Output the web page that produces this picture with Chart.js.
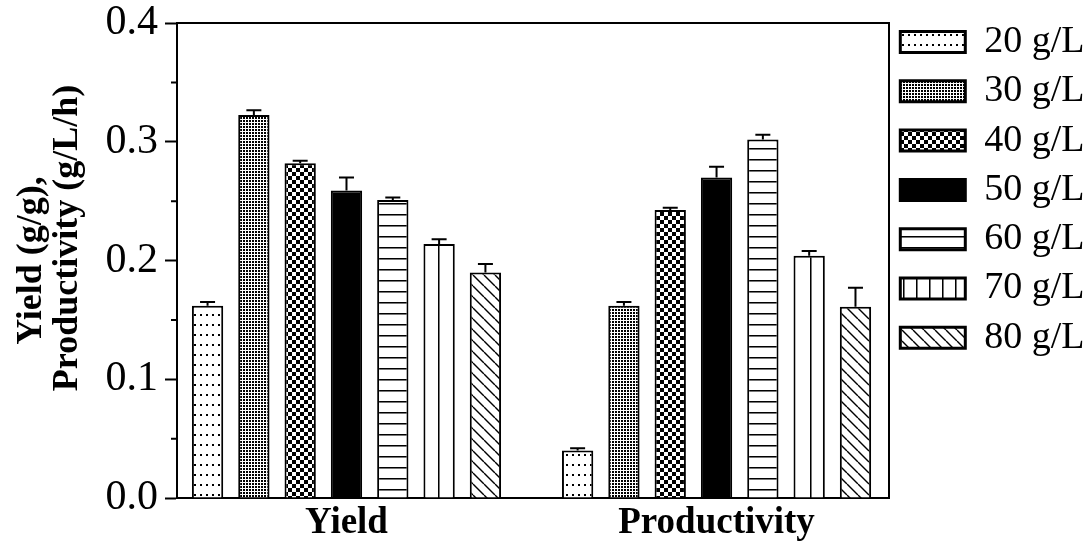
<!doctype html>
<html lang="en">
<head>
<meta charset="utf-8">
<title>Yield and Productivity</title>
<style>
  html, body { margin: 0; padding: 0; background: #fff; }
</style>
</head>
<body>
<canvas id="myChart" width="1090" height="543"></canvas>

<script src="https://cdn.jsdelivr.net/npm/chart.js"></script>
<script>
// data
const groups = ['Yield', 'Productivity'];
const concentrations = ['20 g/L', '30 g/L', '40 g/L', '50 g/L', '60 g/L', '70 g/L', '80 g/L'];
const yieldValues = [0.162, 0.3225, 0.282, 0.259, 0.251, 0.214, 0.190];
const yieldErrors = [0.003, 0.004, 0.002, 0.011, 0.002, 0.004, 0.007];
const productivityValues = [0.040, 0.162, 0.2425, 0.270, 0.302, 0.204, 0.161];
const productivityErrors = [0.002, 0.003, 0.002, 0.009, 0.004, 0.004, 0.016];
const yTicks = [0.0, 0.1, 0.2, 0.3, 0.4];
const yMinorTicks = [0.05, 0.15, 0.25, 0.35];

const serif = "'Liberation Serif', 'Times New Roman', serif";
const ctx = document.getElementById('myChart').getContext('2d');

// fill patterns like the original hatching
function makePattern(w, h, draw) {
  const c = document.createElement('canvas');
  c.width = w; c.height = h;
  const g = c.getContext('2d');
  g.fillStyle = '#fff';
  g.fillRect(0, 0, w, h);
  g.fillStyle = '#000';
  g.strokeStyle = '#000';
  draw(g, w, h);
  return ctx.createPattern(c, 'repeat');
}

const dots = makePattern(6, 10, g => g.fillRect(2, 4, 2, 2));
const dense = makePattern(3, 3, g => g.fillRect(0, 0, 2, 2));
const checker = makePattern(8, 8, g => { g.fillRect(0, 0, 4, 4); g.fillRect(4, 4, 4, 4); });
const hlines = makePattern(4, 11, g => {
  g.fillRect(0, 5, 4, 1);
  g.fillStyle = '#777';
  g.fillRect(0, 6, 4, 1);
});
const vlinesBar = makePattern(31, 4, g => {
  g.fillRect(4, 0, 1, 4);
  g.fillStyle = '#777';
  g.fillRect(5, 0, 1, 4);
});
const vlinesLegend = makePattern(13, 4, g => {
  g.fillRect(6, 0, 1, 4);
  g.fillStyle = '#777';
  g.fillRect(7, 0, 1, 4);
});
const diag = makePattern(11, 11, (g, w, h) => {
  g.lineWidth = 1.4;
  g.beginPath();
  [-w, 0, w].forEach(k => { g.moveTo(k, 0); g.lineTo(k + w, h); });
  g.stroke();
});

const barFills = [dots, dense, checker, '#000', hlines, vlinesBar, diag];
const legendFills = [dots, dense, checker, '#000', hlines, vlinesLegend, diag];

const datasets = concentrations.map((label, i) => ({
  label: label,
  data: [{x: 0, y: yieldValues[i]}, {x: 1, y: productivityValues[i]}],
  errors: [yieldErrors[i], productivityErrors[i]],
  backgroundColor: barFills[i],
  borderColor: '#000',
  borderWidth: 2,
  categoryPercentage: 0.876,
  barPercentage: 0.676
}));

// upward error bars with caps
const errorBars = {
  id: 'errorBars',
  afterDatasetsDraw(chart) {
    const c = chart.ctx;
    const y = chart.scales.y;
    c.save();
    c.strokeStyle = '#000';
    c.lineWidth = 2;
    chart.data.datasets.forEach((ds, i) => {
      chart.getDatasetMeta(i).data.forEach((bar, j) => {
        const top = y.getPixelForValue(ds.data[j].y + ds.errors[j]);
        c.beginPath();
        c.moveTo(bar.x, bar.y);
        c.lineTo(bar.x, top);
        c.moveTo(bar.x - 7.5, top);
        c.lineTo(bar.x + 7.5, top);
        c.stroke();
      });
    });
    c.restore();
  }
};

// top/right frame and the short minor ticks
const frame = {
  id: 'frame',
  afterDraw(chart) {
    const c = chart.ctx;
    const a = chart.chartArea;
    const y = chart.scales.y;
    c.save();
    c.strokeStyle = '#000';
    c.lineWidth = 2;
    c.beginPath();
    c.moveTo(a.left, a.top);
    c.lineTo(a.right, a.top);
    c.lineTo(a.right, a.bottom);
    yMinorTicks.forEach(v => {
      const p = y.getPixelForValue(v);
      c.moveTo(a.left - 6, p);
      c.lineTo(a.left, p);
    });
    c.stroke();
    c.restore();
  }
};

new Chart(ctx, {
  type: 'bar',
  data: { datasets: datasets },
  plugins: [errorBars, frame],
  options: {
    responsive: false,
    animation: false,
    devicePixelRatio: 1,
    layout: { padding: 0 },
    scales: {
      x: {
        type: 'linear',
        min: -0.458,
        max: 1.466,
        offset: false,
        afterBuildTicks: s => { s.ticks = groups.map((g, i) => ({value: i})); },
        afterFit: s => { s.height = 45; },
        grid: { display: false, drawTicks: false },
        border: { display: true, color: '#000', width: 2 },
        ticks: {
          autoSkip: false,
          maxRotation: 0,
          padding: 3,
          color: '#000',
          font: { family: serif, size: 37, weight: 'bold' },
          callback: v => groups[v]
        }
      },
      y: {
        min: 0,
        max: 0.4,
        afterBuildTicks: s => { s.ticks = yTicks.map(v => ({value: v})); },
        afterFit: s => { s.width = 177; },
        grid: {
          drawOnChartArea: false,
          drawTicks: true,
          tickLength: 12,
          tickWidth: 2,
          tickColor: '#000'
        },
        border: { display: true, color: '#000', width: 2 },
        ticks: {
          padding: 7,
          color: '#000',
          font: { family: serif, size: 42, lineHeight: 0.762 },
          callback: v => Number(v).toFixed(1)
        },
        title: {
          display: true,
          // leading spaces push the second line up, as in the original
          text: ['Yield (g/g),', '     Productivity (g/L/h)'],
          color: '#000',
          padding: { top: 14, bottom: 0 },
          font: { family: serif, size: 36, weight: 'bold', lineHeight: 1.0 }
        }
      }
    },
    plugins: {
      tooltip: { enabled: false },
      legend: {
        position: 'right',
        align: 'start',
        maxWidth: 201,
        title: { display: true, text: '', padding: 5.35, font: { size: 1, lineHeight: 1 } },
        labels: {
          boxWidth: 65,
          boxHeight: 21,
          padding: 11.3,
          color: '#000',
          font: { family: serif, size: 38 },
          generateLabels: chart => {
            const items = Chart.defaults.plugins.legend.labels.generateLabels(chart);
            items.forEach((it, i) => { it.fillStyle = legendFills[i]; it.lineWidth = 3; });
            return items;
          }
        }
      }
    }
  }
});
</script>
</body>
</html>
